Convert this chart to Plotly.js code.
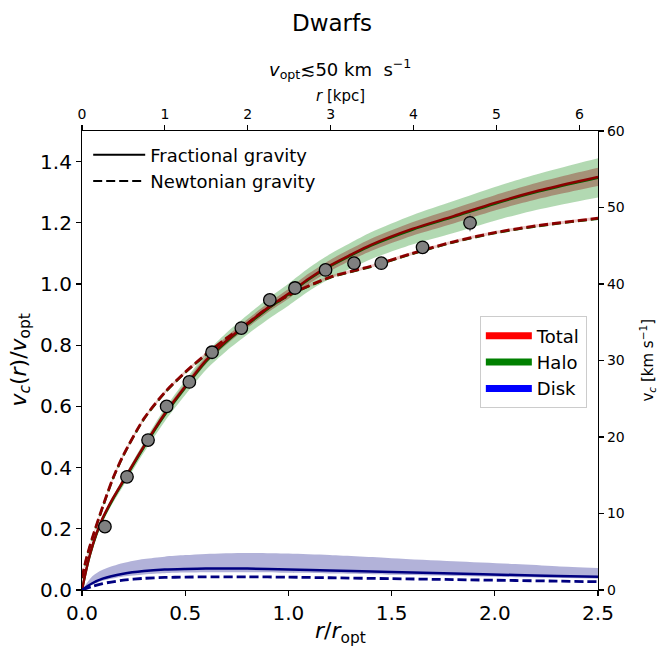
<!DOCTYPE html>
<html>
<head>
<meta charset="utf-8">
<script src="https://cdn.plot.ly/plotly-3.0.1.min.js"></script>
<style>html,body{margin:0;padding:0;background:#fff;}#plot{width:664px;height:664px;}</style>
</head>
<body>
<div id="plot"></div>
<script>
// ---- data ----
const rOptKpc = 2.49;          // r_opt in kpc (top axis conversion)
const vOpt = 40;               // v_opt in km/s (right axis conversion)

const obsX = [0.111, 0.218, 0.32, 0.41, 0.52, 0.63, 0.772, 0.91, 1.032, 1.18, 1.318, 1.45, 1.65, 1.88];
const obsY = [0.207, 0.37, 0.49, 0.60, 0.68, 0.777, 0.856, 0.948, 0.987, 1.046, 1.068, 1.068, 1.12, 1.20];
const obsErr = [0.01, 0.01, 0.01, 0.01, 0.01, 0.01, 0.01, 0.012, 0.012, 0.012, 0.015, 0.015, 0.018, 0.028];

const gridX = [0, 0.02, 0.04, 0.07, 0.1, 0.15, 0.2, 0.3, 0.4, 0.5, 0.6, 0.7, 0.8, 0.9, 1.0, 1.1, 1.2, 1.3, 1.4, 1.6, 1.8, 2.0, 2.2, 2.4, 2.5];
const totalFrac = [0, 0.065, 0.12, 0.185, 0.235, 0.30, 0.357, 0.47, 0.575, 0.665, 0.75, 0.815, 0.87, 0.922, 0.968, 1.018, 1.06, 1.095, 1.128, 1.18, 1.222, 1.265, 1.303, 1.335, 1.35];
const totalFracHi = [0, 0.066, 0.122, 0.188, 0.239, 0.305, 0.363, 0.478, 0.585, 0.676, 0.762, 0.828, 0.884, 0.937, 0.984, 1.035, 1.078, 1.114, 1.148, 1.202, 1.246, 1.29, 1.33, 1.364, 1.38];
const totalFracLo = [0, 0.064, 0.118, 0.182, 0.231, 0.295, 0.351, 0.462, 0.565, 0.654, 0.738, 0.802, 0.856, 0.907, 0.952, 1.001, 1.042, 1.076, 1.108, 1.158, 1.198, 1.24, 1.276, 1.306, 1.32];
const haloFrac = [0, 0.063, 0.117, 0.181, 0.231, 0.296, 0.353, 0.466, 0.571, 0.661, 0.746, 0.811, 0.866, 0.918, 0.965, 1.015, 1.057, 1.092, 1.125, 1.177, 1.219, 1.262, 1.30, 1.332, 1.347];
const haloFracHi = [0, 0.066, 0.122, 0.188, 0.24, 0.307, 0.366, 0.483, 0.592, 0.685, 0.773, 0.841, 0.898, 0.952, 1.001, 1.053, 1.097, 1.134, 1.169, 1.225, 1.271, 1.317, 1.358, 1.394, 1.411];
const haloFracLo = [0, 0.06, 0.112, 0.174, 0.222, 0.285, 0.34, 0.449, 0.55, 0.637, 0.719, 0.781, 0.834, 0.884, 0.929, 0.977, 1.017, 1.05, 1.081, 1.129, 1.167, 1.207, 1.242, 1.27, 1.283];

const newtX = [0, 0.02, 0.05, 0.1, 0.15, 0.2, 0.3, 0.4, 0.5, 0.6, 0.7, 0.8, 0.9, 1.0, 1.2, 1.4, 1.6, 1.8, 2.0, 2.2, 2.5];
const totalNewt = [0.04, 0.10, 0.17, 0.272, 0.365, 0.44, 0.56, 0.645, 0.712, 0.77, 0.823, 0.87, 0.922, 0.963, 1.022, 1.058, 1.10, 1.138, 1.168, 1.19, 1.215];
const totalNewtHi = [0.045, 0.105, 0.175, 0.277, 0.37, 0.445, 0.565, 0.65, 0.717, 0.775, 0.828, 0.875, 0.927, 0.968, 1.027, 1.063, 1.105, 1.143, 1.173, 1.195, 1.22];
const totalNewtLo = [0.035, 0.095, 0.165, 0.267, 0.36, 0.435, 0.555, 0.64, 0.707, 0.765, 0.818, 0.865, 0.917, 0.958, 1.017, 1.053, 1.095, 1.133, 1.163, 1.185, 1.21];
const haloNewt = [0.038, 0.098, 0.168, 0.27, 0.363, 0.438, 0.558, 0.643, 0.71, 0.768, 0.821, 0.868, 0.92, 0.961, 1.02, 1.056, 1.098, 1.136, 1.166, 1.188, 1.213];

const diskX = [0, 0.05, 0.1, 0.2, 0.3, 0.4, 0.5, 0.6, 0.8, 1.0, 1.2, 1.5, 1.8, 2.1, 2.3, 2.5];
const diskFrac = [0, 0.022, 0.037, 0.053, 0.062, 0.067, 0.069, 0.070, 0.070, 0.067, 0.064, 0.059, 0.054, 0.049, 0.046, 0.043];
const diskFracHi = [0, 0.045, 0.066, 0.088, 0.101, 0.109, 0.114, 0.118, 0.121, 0.119, 0.114, 0.104, 0.094, 0.085, 0.078, 0.072];
const diskFracLo = [0, 0.017, 0.03, 0.044, 0.051, 0.055, 0.057, 0.058, 0.058, 0.056, 0.054, 0.05, 0.046, 0.042, 0.04, 0.037];
const diskNewt = [0, 0.012, 0.021, 0.032, 0.038, 0.041, 0.042, 0.043, 0.043, 0.042, 0.040, 0.037, 0.034, 0.031, 0.029, 0.027];

const xRange = [0, 2.5];
const yRange = [0, 1.5];

// ---- build traces ----
const FONT = 'DejaVu Sans, Liberation Sans, sans-serif';
const DASH = '9px,4px';
function band(x, lo, hi, color) {
  return [
    {x: x, y: lo, type: 'scatter', mode: 'lines',
      line: {width: 0, color: 'rgba(0,0,0,0)', shape: 'spline', smoothing: 0.8},
      hoverinfo: 'skip', showlegend: false},
    {x: x, y: hi, type: 'scatter', mode: 'lines', fill: 'tonexty', fillcolor: color,
      line: {width: 0, color: 'rgba(0,0,0,0)', shape: 'spline', smoothing: 0.8},
      hoverinfo: 'skip', showlegend: false}
  ];
}
function line(x, y, color, dash, width) {
  return {x: x, y: y, type: 'scatter', mode: 'lines',
    line: {color: color, width: width || 2.5, dash: dash || 'solid', shape: 'spline', smoothing: 0.8},
    hoverinfo: 'skip', showlegend: false};
}

const traces = [].concat(
  band(gridX, haloFracLo, haloFracHi, 'rgba(0,128,0,0.3)'),
  band(gridX, totalFracLo, totalFracHi, 'rgba(139,0,0,0.33)'),
  band(newtX, totalNewtLo, totalNewtHi, 'rgba(205,92,92,0.35)'),
  band(diskX, diskFracLo, diskFracHi, 'rgba(0,0,128,0.3)'),
  [
  line(gridX, haloFrac, '#006400', 'solid', 2.2),
  line(newtX, haloNewt, '#006400', DASH, 2.2),
  line(gridX, totalFrac, '#8b0000', 'solid', 2.5),
  line(newtX, totalNewt, '#8b0000', DASH, 2.8),
  line(diskX, diskFrac, '#000080', 'solid', 2.5),
  line(diskX, diskNewt, '#000080', DASH, 2.8),
  {
    x: obsX, y: obsY, type: 'scatter', mode: 'markers',
    error_y: {type: 'data', array: obsErr, color: 'rgba(110,110,110,0.8)', thickness: 1.5, width: 0},
    marker: {color: '#808080', size: 12.5, line: {color: '#000', width: 1.3}},
    hoverinfo: 'skip', showlegend: false
  },
  // legend 1 (line styles)
  {x: [null], y: [null], type: 'scatter', mode: 'lines', name: 'Fractional gravity',
    line: {color: '#000', width: 2, dash: 'solid'}, legend: 'legend'},
  {x: [null], y: [null], type: 'scatter', mode: 'lines', name: 'Newtonian gravity',
    line: {color: '#000', width: 2, dash: DASH}, legend: 'legend'},
  // legend 2 (components)
  {x: [null], y: [null], type: 'scatter', mode: 'lines', name: 'Total',
    line: {color: 'red', width: 7}, legend: 'legend2'},
  {x: [null], y: [null], type: 'scatter', mode: 'lines', name: 'Halo',
    line: {color: 'green', width: 7}, legend: 'legend2'},
  {x: [null], y: [null], type: 'scatter', mode: 'lines', name: 'Disk',
    line: {color: 'blue', width: 7}, legend: 'legend2'},
  // secondary axes carrier
  {x: [null], y: [null], xaxis: 'x2', yaxis: 'y2', type: 'scatter', mode: 'markers',
    showlegend: false, hoverinfo: 'skip'}
  ]
);

const axCommon = {
  showline: true, linecolor: '#000', linewidth: 1.1, mirror: false,
  ticks: 'outside', ticklen: 5, tickwidth: 1.1, tickcolor: '#000',
  showgrid: false, zeroline: false, fixedrange: true
};

const layout = {
  width: 664, height: 664,
  margin: {l: 82, r: 66, t: 131, b: 74, pad: 0},
  paper_bgcolor: '#fff', plot_bgcolor: '#fff',
  font: {family: FONT, color: '#000'},
  title: {text: 'Dwarfs', font: {family: FONT, size: 23, color: '#000'}, x: 0.5, xanchor: 'center', y: 0.966, yanchor: 'middle'},
  xaxis: Object.assign({}, axCommon, {range: xRange, tickvals: [0, 0.5, 1.0, 1.5, 2.0, 2.5], tickformat: '.1f',
    tickfont: {family: FONT, size: 20}, anchor: 'y', side: 'bottom'}),
  yaxis: Object.assign({}, axCommon, {range: yRange, tickvals: [0, 0.2, 0.4, 0.6, 0.8, 1.0, 1.2, 1.4], tickformat: '.1f',
    tickfont: {family: FONT, size: 20}, anchor: 'x', side: 'left'}),
  xaxis2: Object.assign({}, axCommon, {range: [0, xRange[1] * rOptKpc], dtick: 1, tick0: 0,
    tickfont: {family: FONT, size: 14}, overlaying: 'x', side: 'top', anchor: 'y2'}),
  yaxis2: Object.assign({}, axCommon, {range: [0, yRange[1] * vOpt], dtick: 10, tick0: 0,
    tickfont: {family: FONT, size: 14}, overlaying: 'y', side: 'right', anchor: 'x2'}),
  legend: {x: 0.012, y: 0.988, xanchor: 'left', yanchor: 'top', bgcolor: 'rgba(0,0,0,0)', borderwidth: 0,
    font: {family: FONT, size: 18}, itemwidth: 52, tracegroupgap: 0, traceorder: 'normal'},
  legend2: {x: 0.771, y: 0.596, xanchor: 'left', yanchor: 'top', bgcolor: 'rgba(255,255,255,0.85)',
    bordercolor: '#cccccc', borderwidth: 1, font: {family: FONT, size: 18}, itemwidth: 46, traceorder: 'normal'},
  annotations: [
    {text: '<i>v</i><sub>opt</sub>≲50 km  s<sup>−1</sup>', xref: 'paper', yref: 'paper', x: 0.5, y: 1.135,
      xanchor: 'center', yanchor: 'middle', showarrow: false, font: {family: FONT, size: 18}},
    {text: '<i>r</i> [kpc]', xref: 'paper', yref: 'paper', x: 0.5, y: 1.077,
      xanchor: 'center', yanchor: 'middle', showarrow: false, font: {family: FONT, size: 15}},
    {text: '<i>r</i>/<i>r</i><sub>opt</sub>', xref: 'paper', yref: 'paper', x: 0.5, y: -0.093,
      xanchor: 'center', yanchor: 'middle', showarrow: false, font: {family: FONT, size: 22}},
    {text: '<i>v</i><sub><i>c</i></sub>(<i>r</i>)/<i>v</i><sub>opt</sub>', xref: 'paper', yref: 'paper', x: -0.12, y: 0.5,
      xanchor: 'center', yanchor: 'middle', textangle: -90, showarrow: false, font: {family: FONT, size: 22}},
    {text: 'v<sub><i>c</i></sub> [km s<sup>−1</sup>]', xref: 'paper', yref: 'paper', x: 1.095, y: 0.5,
      xanchor: 'center', yanchor: 'middle', textangle: -90, showarrow: false, font: {family: FONT, size: 15}}
  ]
};

Plotly.newPlot('plot', traces, layout, {staticPlot: true, displayModeBar: false});
</script>
</body>
</html>
